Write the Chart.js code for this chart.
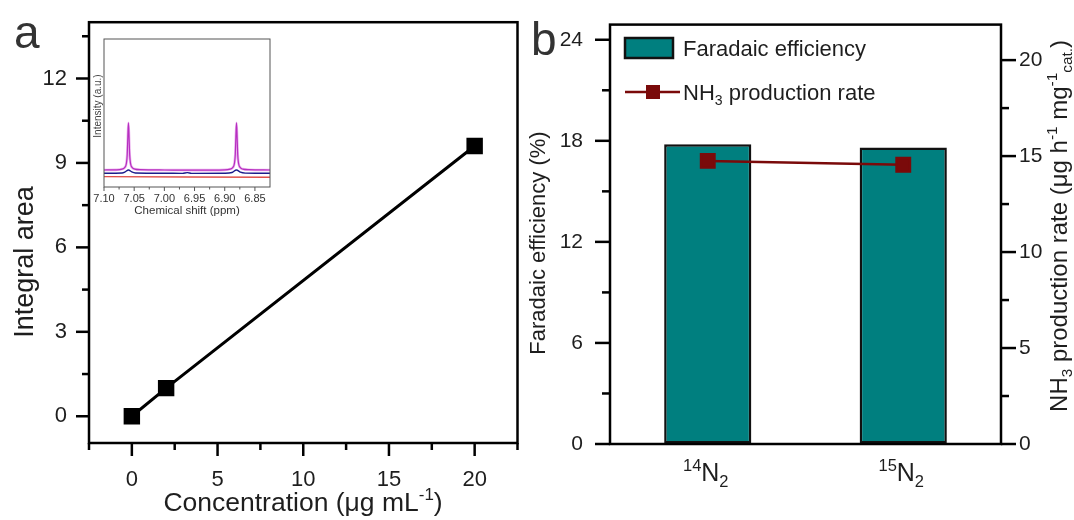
<!DOCTYPE html>
<html>
<head>
<meta charset="utf-8">
<script src="https://cdn.jsdelivr.net/npm/chart.js@4.4.0/dist/chart.umd.min.js"></script>
<style>
  html, body { margin: 0; padding: 0; background: #fff; }
  body { width: 1074px; height: 520px; position: relative; overflow: hidden; }
  .wrap { position: absolute; top: 0; }
</style>
</head>
<body>
<div class="wrap" style="left:0;width:530px;height:520px"><canvas id="chart-a"></canvas></div>
<div class="wrap" style="left:520px;width:554px;height:520px"><canvas id="chart-b"></canvas></div>
<div class="wrap" style="left:60px;top:20px;width:230px;height:200px"><canvas id="chart-inset"></canvas></div>
<script>
// ── panel a: calibration curve ─────────────────────
const concA   = [0, 2, 20];
const areaA   = [0, 1.0, 9.6];
const xTicksA = [0, 5, 10, 15, 20];
const xMinorA = [-2.5, 2.5, 7.5, 12.5, 17.5, 22.5];
const yTicksA = [0, 3, 6, 9, 12];
const yMinorA = [1.5, 4.5, 7.5, 10.5, 13.5];

// ── inset: 1H NMR spectra ──────────────────────────
const ppmMag = [7.100, 7.080, 7.070, 7.066, 7.063, 7.0615, 7.0605, 7.0595, 7.0585, 7.0575, 7.056, 7.053, 7.049, 7.040,
                7.000, 6.950, 6.900, 6.891, 6.887, 6.884, 6.8825, 6.8815, 6.8805, 6.8795, 6.8785, 6.877, 6.874, 6.870, 6.860, 6.825];
const intMag = [1.15, 1.16, 1.21, 1.30, 1.58, 2.20, 3.40, 4.34, 3.40, 2.20, 1.58, 1.30, 1.21, 1.17,
                1.15, 1.14, 1.16, 1.21, 1.30, 1.58, 2.20, 3.40, 4.34, 3.40, 2.20, 1.58, 1.30, 1.21, 1.17, 1.15];
const ppmBlue = [7.100, 7.070, 7.065, 7.0595, 7.054, 7.048, 7.000, 6.970, 6.962, 6.955, 6.900, 6.888, 6.8805, 6.874, 6.866, 6.850, 6.825];
const intBlue = [0.93, 0.95, 1.02, 1.15, 1.02, 0.95, 0.93, 0.92, 0.97, 0.92, 0.93, 0.98, 1.15, 1.00, 0.94, 0.93, 0.93];
const ppmRed  = [7.100, 6.825];
const intRed  = [0.70, 0.66];
const ppmTicks = [7.10, 7.05, 7.00, 6.95, 6.90, 6.85];
const ppmMinor = [7.075, 7.025, 6.975, 6.925, 6.875];

// ── panel b: isotope labelling ─────────────────────
const isotopes    = ['^{14}N_{2}', '^{15}N_{2}'];
const faradaicEff = [17.8, 17.6];
const nh3Rate     = [14.75, 14.55];
const feTicks     = [0, 6, 12, 18, 24];
const feMinor     = [3, 9, 15, 21];
const rateTicks   = [0, 5, 10, 15, 20];
const rateMinor   = [2.5, 7.5, 12.5, 17.5];

const FONT = '"Liberation Sans", Arial, sans-serif';
const INK  = '#1e1e1e';

// "^{..}" superscript, "_{..}" subscript
function parseRich(str) {
  const parts = [];
  const re = /([\^_])\{([^}]*)\}|([^\^_]+)/g;
  let m;
  while ((m = re.exec(str))) {
    if (m[3]) parts.push({ t: m[3], k: '' });
    else parts.push({ t: m[2], k: m[1] === '^' ? 'sup' : 'sub' });
  }
  return parts;
}

function drawRich(ctx, str, x, y, size, o = {}) {
  const parts = parseRich(str);
  const small = size * (o.small || 0.64);
  const widths = parts.map(p => {
    ctx.font = `${p.k ? small : size}px ${FONT}`;
    return ctx.measureText(p.t).width;
  });
  const total = widths.reduce((s, w) => s + w, 0);
  ctx.save();
  ctx.translate(x, y);
  if (o.rotate) ctx.rotate(o.rotate);
  ctx.fillStyle = o.color || INK;
  ctx.textBaseline = 'alphabetic';
  ctx.textAlign = 'left';
  let cx = o.align === 'left' ? 0 : o.align === 'right' ? -total : -total / 2;
  parts.forEach((p, i) => {
    ctx.font = `${p.k ? small : size}px ${FONT}`;
    const dy = p.k === 'sup' ? -size * 0.4 : p.k === 'sub' ? size * 0.22 : 0;
    ctx.fillText(p.t, cx, dy);
    cx += widths[i];
  });
  ctx.restore();
}

// frame, tick marks and free text (titles, legend)
const sciAxes = {
  id: 'sciAxes',
  afterDraw(chart, args, opts) {
    const ctx = chart.ctx, a = chart.chartArea;
    ctx.save();
    ctx.strokeStyle = opts.color || '#000';
    ctx.lineWidth = opts.lineWidth || 2;
    (opts.ticks || []).forEach(t => {
      const s = chart.scales[t.id];
      const mark = (v, len) => {
        const p = s.getPixelForValue(v);
        ctx.beginPath();
        if (t.side === 'left')   { ctx.moveTo(a.left, p);  ctx.lineTo(a.left - len, p); }
        if (t.side === 'right')  { ctx.moveTo(a.right, p); ctx.lineTo(a.right + len, p); }
        if (t.side === 'bottom') { ctx.moveTo(p, a.bottom); ctx.lineTo(p, a.bottom + len); }
        ctx.stroke();
      };
      t.major.forEach(v => mark(v, t.majorLen));
      t.minor.forEach(v => mark(v, t.minorLen));
    });
    if (opts.box) ctx.strokeRect(a.left, a.top, a.right - a.left, a.bottom - a.top);
    ctx.restore();
    (opts.texts || []).forEach(tx => drawRich(ctx, tx.text, tx.x, tx.y, tx.size, tx));
    if (opts.extra) opts.extra(chart);
  }
};
Chart.register(sciAxes);

const tickFont = size => ({ family: FONT, size });

// ── panel a ─────────────────────────────────────────
new Chart(document.getElementById('chart-a'), {
  type: 'line',
  data: {
    datasets: [{
      data: concA.map((x, i) => ({ x, y: areaA[i] })),
      borderColor: '#000',
      backgroundColor: '#000',
      borderWidth: 3,
      pointStyle: 'rect',
      pointRadius: 9.5,
      pointHoverRadius: 9.5,
    }],
  },
  options: {
    responsive: true,
    maintainAspectRatio: false,
    animation: false,
    layout: { padding: { top: 19, right: 12, left: 0, bottom: 0 } },
    plugins: {
      legend: { display: false },
      tooltip: { enabled: false },
      sciAxes: {
        box: true, lineWidth: 2.5,
        ticks: [
          { id: 'x', side: 'bottom', major: xTicksA, minor: xMinorA, majorLen: 13, minorLen: 7 },
          { id: 'y', side: 'left',   major: yTicksA, minor: yMinorA, majorLen: 13, minorLen: 7 },
        ],
        texts: [
          { text: 'a', x: 14, y: 48, size: 46, align: 'left', color: '#333' },
          { text: 'Concentration (μg mL^{-1})', x: 303, y: 511, size: 26.5 },
          { text: 'Integral area', x: 33, y: 262, size: 27, rotate: -Math.PI / 2 },
        ],
      },
    },
    scales: {
      x: {
        type: 'linear', min: -2.5, max: 22.5,
        afterBuildTicks: s => { s.ticks = xTicksA.map(v => ({ value: v })); },
        afterFit: s => { s.height = 77; },
        grid: { drawOnChartArea: false, tickLength: 13, tickColor: 'rgba(0,0,0,0)' },
        border: { display: false },
        ticks: { font: tickFont(22), color: INK, padding: 11, maxRotation: 0 },
      },
      y: {
        min: -0.95, max: 14,
        afterBuildTicks: s => { s.ticks = yTicksA.map(v => ({ value: v })); },
        afterFit: s => { s.width = 89; },
        grid: { drawOnChartArea: false, tickLength: 13, tickColor: 'rgba(0,0,0,0)' },
        border: { display: false },
        ticks: { font: tickFont(22), color: INK, padding: 9 },
      },
    },
  },
});

// ── inset ───────────────────────────────────────────
// Chart.js paints dataset 0 last, so the top-most trace comes first
const spec = (xs, ys, color, w) => ({
  data: xs.map((x, i) => ({ x, y: ys[i] })),
  borderColor: color,
  borderWidth: w,
  pointRadius: 0,
  cubicInterpolationMode: 'monotone',
});

new Chart(document.getElementById('chart-inset'), {
  type: 'line',
  data: {
    datasets: [
      spec(ppmRed,  intRed,  '#e0504a', 1.4),
      spec(ppmBlue, intBlue, '#1c1c8c', 1.4),
      spec(ppmMag,  intMag,  '#b62fc0', 1.2),
      spec(ppmMag,  intMag,  '#ecb2ef', 2.6),
    ],
  },
  options: {
    responsive: true,
    maintainAspectRatio: false,
    animation: false,
    layout: { padding: { top: 19, right: 20, left: 44, bottom: 0 } },
    plugins: {
      legend: { display: false },
      tooltip: { enabled: false },
      sciAxes: {
        box: true, lineWidth: 1, color: '#555',
        ticks: [
          { id: 'x', side: 'bottom', major: ppmTicks, minor: ppmMinor, majorLen: 4, minorLen: 2.5 },
        ],
        texts: [
          { text: 'Intensity (a.u.)', x: 41, y: 86, size: 10, rotate: -Math.PI / 2, color: '#444' },
          { text: 'Chemical shift (ppm)', x: 127, y: 194, size: 11.5, color: '#333' },
        ],
      },
    },
    scales: {
      x: {
        type: 'linear', reverse: true, min: 6.825, max: 7.10,
        afterBuildTicks: s => { s.ticks = ppmTicks.map(v => ({ value: v })); },
        afterFit: s => { s.height = 33; },
        grid: { drawOnChartArea: false, tickLength: 4, tickColor: 'rgba(0,0,0,0)' },
        border: { display: false },
        ticks: { font: tickFont(11), color: '#333', padding: 1, maxRotation: 0,
                 callback: v => Number(v).toFixed(2) },
      },
      y: { display: false, min: 0, max: 10 },
    },
  },
});

// ── panel b ─────────────────────────────────────────
function legendB(chart) {
  const ctx = chart.ctx;
  const [bar, line] = chart.data.datasets;
  ctx.save();
  ctx.fillStyle = bar.backgroundColor;
  ctx.strokeStyle = bar.borderColor;
  ctx.lineWidth = 2.5;
  ctx.fillRect(105, 38, 48, 20);
  ctx.strokeRect(105, 38, 48, 20);
  ctx.strokeStyle = line.borderColor;
  ctx.lineWidth = 2.5;
  ctx.beginPath(); ctx.moveTo(105, 92); ctx.lineTo(160, 92); ctx.stroke();
  ctx.fillStyle = line.backgroundColor;
  ctx.fillRect(126, 85, 14, 14);
  ctx.restore();
  drawRich(ctx, bar.label, 163, 56, 22, { align: 'left' });
  drawRich(ctx, line.label, 163, 100, 22, { align: 'left' });
  const xs = chart.scales.x;
  isotopes.forEach((c, i) => drawRich(ctx, c, xs.getPixelForValue(i) - 2, 481, 25, { small: 0.66 }));
}

new Chart(document.getElementById('chart-b'), {
  data: {
    labels: isotopes,
    datasets: [
      {
        type: 'bar',
        label: 'Faradaic efficiency',
        data: faradaicEff,
        yAxisID: 'y',
        backgroundColor: '#007f7f',
        borderColor: '#111',
        borderWidth: 2.5,
        borderSkipped: false,
        categoryPercentage: 1,
        barPercentage: 0.446,
        order: 2,
      },
      {
        type: 'line',
        label: 'NH_{3} production rate',
        data: nh3Rate,
        yAxisID: 'y2',
        borderColor: '#7a0a0a',
        backgroundColor: '#7a0a0a',
        borderWidth: 2.5,
        pointStyle: 'rect',
        pointRadius: 9.5,
        pointHoverRadius: 9.5,
        order: 1,
      },
    ],
  },
  options: {
    responsive: true,
    maintainAspectRatio: false,
    animation: false,
    layout: { padding: { top: 20, right: 0, left: 0, bottom: 0 } },
    plugins: {
      legend: { display: false },
      tooltip: { enabled: false },
      sciAxes: {
        box: true, lineWidth: 2.5,
        ticks: [
          { id: 'y',  side: 'left',  major: feTicks,   minor: feMinor,   majorLen: 15, minorLen: 8 },
          { id: 'y2', side: 'right', major: rateTicks, minor: rateMinor, majorLen: 15, minorLen: 8 },
        ],
        texts: [
          { text: 'b', x: 11, y: 55, size: 46, align: 'left', color: '#333' },
          { text: 'Faradaic efficiency (%)', x: 25, y: 243, size: 22, rotate: -Math.PI / 2 },
          { text: 'NH_{3} production rate (μg h^{-1} mg^{-1}_{cat.})', x: 547, y: 226, size: 24, rotate: -Math.PI / 2 },
        ],
        extra: legendB,
      },
    },
    scales: {
      x: {
        type: 'category',
        afterFit: s => { s.height = 76; },
        grid: { display: false },
        border: { display: false },
        ticks: { display: false },
      },
      y: {
        position: 'left', min: 0, max: 24.9,
        afterBuildTicks: s => { s.ticks = feTicks.map(v => ({ value: v })); },
        afterFit: s => { s.width = 90; },
        grid: { drawOnChartArea: false, tickLength: 15, tickColor: 'rgba(0,0,0,0)' },
        border: { display: false },
        ticks: { font: tickFont(21), color: INK, padding: 12 },
      },
      y2: {
        position: 'right', min: 0, max: 21.85,
        afterBuildTicks: s => { s.ticks = rateTicks.map(v => ({ value: v })); },
        afterFit: s => { s.width = 73; },
        grid: { drawOnChartArea: false, tickLength: 15, tickColor: 'rgba(0,0,0,0)' },
        border: { display: false },
        ticks: { font: tickFont(21), color: INK, padding: 3 },
      },
    },
  },
});
</script>
</body>
</html>
